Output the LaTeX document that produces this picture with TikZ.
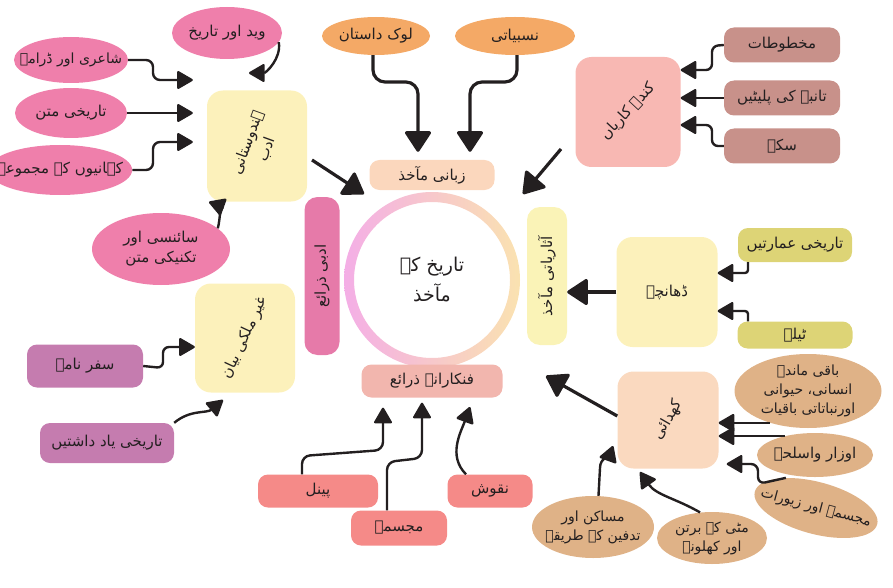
\documentclass[tikz,border=0pt]{standalone}
\usepackage{fontspec}
\newfontfamily\arabicfont[Script=Arabic]{DejaVu Sans}
\TeXXeTstate=1
\usetikzlibrary{arrows.meta,shapes.geometric,calc}
\newcommand{\urd}[1]{\beginR #1\endR}
\definecolor{pinkE}{HTML}{EF7FAB}
\definecolor{yelB}{HTML}{FCF1BB}
\definecolor{barP}{HTML}{E67AA9}
\definecolor{barY}{HTML}{FAF3B7}
\definecolor{zab}{HTML}{FBD7BD}
\definecolor{fank}{HTML}{F2B6AE}
\definecolor{kand}{HTML}{F8B8B3}
\definecolor{tenB}{HTML}{C8918A}
\definecolor{oliveB}{HTML}{DDD476}
\definecolor{tanE}{HTML}{DFB287}
\definecolor{khud}{HTML}{FAD9BF}
\definecolor{redB}{HTML}{F58A88}
\definecolor{purB}{HTML}{C57CAF}
\definecolor{orE}{HTML}{F4A966}
\definecolor{arrc}{HTML}{231F20}
\definecolor{txtc}{HTML}{231F20}
\definecolor{ringL}{HTML}{F4AEE6}
\definecolor{ringR}{HTML}{FAE2B0}
\tikzset{
  every node/.style={font=\arabicfont\fontsize{15pt}{20pt}\selectfont, text=txtc, align=center, inner sep=0pt},
  smalltext/.style={font=\arabicfont\fontsize{14pt}{19pt}\selectfont},
  ell/.style={ellipse, fill=#1, inner xsep=-12pt, inner ysep=-5pt},
  rbox/.style={rounded corners=10pt, fill=#1},
  bigbox/.style={rounded corners=16pt, fill=#1},
  arr/.style={-{Triangle[length=17pt,width=19pt,round]}, line width=2.4pt, draw=arrc},
  barr/.style={-{Triangle[length=22pt,width=28pt,round]}, line width=3.2pt, draw=arrc},
}
\begin{document}
\begin{tikzpicture}[x=1pt,y=-1pt]
\useasboundingbox (0,0) rectangle (893,588);
\clip (0,0) rectangle (893,588);

% centre ring
\coordinate (c) at (432,280);
\shade[left color=ringL, right color=ringR, even odd rule] (c) circle (88pt) (c) circle (78pt);
\node[font=\arabicfont\fontsize{19pt}{30pt}\selectfont] (centre) at (c) {\urd{تاریخ کے}\\\urd{مآخذ}};

% inner ring labels
\node[rbox=zab, minimum width=125pt, minimum height=30pt] (zabani) at (432,175) {\urd{زبانی مآخذ}};
\node[rbox=fank, minimum width=141pt, minimum height=33pt] (fankar) at (432,381) {\urd{فنکارانہ ذرائع}};
\node[rbox=barP, rounded corners=13pt, minimum width=35pt, minimum height=158pt] (adabi) at (322,276) {};
\node[rotate=90] (adabit) at (adabi.center) {\urd{ادبی ذرائع}};
\node[rbox=barY, rounded corners=13pt, minimum width=40pt, minimum height=138pt] (athar) at (547,276) {};
\node[rotate=90] (athart) at (athar.center) {\urd{آثاریاتی مآخذ}};

% left literary
\node[bigbox=yelB, minimum width=100pt, minimum height=111pt] (hind) at (257,146) {};
\node[rotate=70] (hindt) at (hind.center) {\urd{ہندوستانی}\\\urd{ادب}};
\node[bigbox=yelB, minimum width=100pt, minimum height=109pt] (ghair) at (245,338) {};
\node[rotate=65] (ghairt) at (ghair.center) {\urd{غیر ملکی بیان}};

\node[ell=pinkE, minimum width=110pt, minimum height=52pt] (ved) at (227,33) {\urd{وید اور تاریخ}};
\node[ell=pinkE, smalltext, minimum width=114pt, minimum height=46pt] (sha) at (71,60) {\urd{شاعری اور ڈرامے}};
\node[ell=pinkE, minimum width=112pt, minimum height=50pt] (tar) at (71,113) {\urd{تاریخی متن}};
\node[ell=pinkE, minimum width=135pt, minimum height=50pt] (kah) at (60,170) {\urd{کہانیوں کے مجموعے}};
\node[ell=pinkE, minimum width=138pt, minimum height=72pt] (sains) at (161,249) {\urd{سائنسی اور}\\\urd{تکنیکی متن}};

\node[rbox=purB, minimum width=116pt, minimum height=43pt] (safar) at (85,366) {\urd{سفر نامے}};
\node[rbox=purB, minimum width=134pt, minimum height=40pt] (yaad) at (107,443) {\urd{تاریخی یاد داشتیں}};

% top oral
\node[ell=orE, minimum width=108pt, minimum height=38pt] (lok) at (376,36) {\urd{لوک داستان}};
\node[ell=orE, minimum width=120pt, minimum height=38pt] (nasab) at (515,36) {\urd{نسبیاتی}};

% right top
\node[bigbox=kand, minimum width=105pt, minimum height=110pt] (kanda) at (628,112) {};
\node[rotate=47] (kandat) at (kanda.center) {\urd{کندہ کاریاں}};
\node[rbox=tenB, minimum width=116pt, minimum height=35pt] (makh) at (782,45) {\urd{مخطوطات}};
\node[rbox=tenB, minimum width=116pt, minimum height=35pt] (tanbe) at (782,98) {\urd{تانبے کی پلیٹیں}};
\node[rbox=tenB, minimum width=116pt, minimum height=35pt] (sikke) at (782,146) {\urd{سکے}};

% right middle
\node[bigbox=yelB, minimum width=101pt, minimum height=110pt] (dhan) at (667,292) {\urd{ڈھانچے}};
\node[rbox=oliveB, minimum width=114pt, minimum height=34pt] (amarat) at (795,245) {\urd{تاریخی عمارتیں}};
\node[rbox=oliveB, minimum width=115pt, minimum height=27pt] (teele) at (795,335) {\urd{ٹیلے}};

% right bottom
\node[bigbox=khud, minimum width=101pt, minimum height=97pt] (khud) at (668,420) {};
\node[rotate=60] (khudt) at (khud.center) {\urd{کھدائی}};
\node[ell=tanE, smalltext, minimum width=147pt, minimum height=74pt] (baqi) at (808,391) {\urd{باقی ماندہ}\\\urd{انسانی، حیوانی}\\\urd{اورنباتاتی باقیات}};
\node[ell=tanE, minimum width=116pt, minimum height=44pt] (auzar) at (815,455) {\urd{اوزار واسلحے}};
\node[ell=tanE, smalltext, minimum width=125pt, minimum height=52pt, rotate=-15] (mz) at (816,508) {\urd{مجسمے اور زیورات}};
\node[ell=tanE, smalltext, minimum width=110pt, minimum height=52pt] (mitti) at (712,538) {\urd{مٹی کے برتن}\\\urd{اور کھلونے}};
\node[ell=tanE, smalltext, minimum width=122pt, minimum height=62pt] (masa) at (593,527) {\urd{مساکن اور}\\\urd{تدفین کے طریقے}};

% bottom artistic
\node[rbox=redB, minimum width=120pt, minimum height=33pt] (panel) at (318,491) {\urd{پینل}};
\node[rbox=redB, minimum width=96pt, minimum height=35pt] (mujas) at (399,528) {\urd{مجسمے}};
\node[rbox=redB, minimum width=85pt, minimum height=33pt] (naqush) at (490,491) {\urd{نقوش}};

% ---- connectors ----
% oral
\draw[barr, rounded corners=12pt, shorten >=8pt] (lok.south -| 373,0) -- (373,82) -- (418,82) -- ([xshift=-14pt]zabani.north);
\draw[barr, rounded corners=12pt, shorten >=8pt] (nasab.south -| 517,0) -- (517,82) -- (470,82) -- ([xshift=38pt]zabani.north);
% big diagonals
\coordinate (d1s) at (312,160);
\coordinate (d1e) at (364,194);
\draw[barr] (d1s) -- (d1e);
\coordinate (d2s) at (561,149);
\coordinate (d2e) at (523,194);
\draw[barr] (d2s) -- (d2e);
\coordinate (d3e) at (546,376);
\draw[barr] (khud.west |- 0,416) -- (d3e);
\draw[barr] (dhan.west) -- (athar.east |- dhan.west);

% literary
\draw[arr, rounded corners=7pt, shorten >=14pt] (sha.east) -- (153,60) -- (153,80) -- (hind.west |- 0,80);
\draw[arr, shorten >=14pt] (tar.east) -- (hind.west |- tar.east);
\draw[arr, rounded corners=7pt, shorten >=14pt] (kah.east) -- (153,170) -- (153,142) -- (hind.west |- 0,142);
\coordinate (vedtip) at (249,73);
\draw[arr] (ved.350) to[out=-80,in=0] (vedtip);
\coordinate (saintip) at (209,202);
\draw[arr] (sains.20) to[out=75,in=-20] (saintip);
\draw[arr, rounded corners=6pt] (safar.east) -- (163,368) -- (163,347) -- (ghair.west |- 0,347);
\coordinate (yaadtip) at (223,400);
\draw[arr] (yaad.north east) to[out=40,in=220] (yaadtip);

% kanda
\draw[arr, rounded corners=6pt] (makh.west) -- (712,46) -- (712,70) -- (kanda.east |- 0,70);
\draw[arr] (tanbe.west) -- (kanda.east |- tanbe.west);
\draw[arr, rounded corners=6pt] (sikke.west) -- (712,146) -- (712,125) -- (kanda.east |- 0,125);

% dhanche
\draw[arr, rounded corners=3pt] (amarat.south -| 748,0) -- (748,273) -- (dhan.east |- 0,273);
\draw[arr, rounded corners=3pt] (teele.north -| 748,0) -- (748,311) -- (dhan.east |- 0,311);

% khudai
\draw[arr] (baqi.220) -- (khud.east |- baqi.220);
\draw[arr] (auzar.148) -- (khud.east |- auzar.148);
\draw[arr, rounded corners=7pt, shorten >=8pt] (mz.150) -- (758,484) -- (758,464) -- (khud.east |- 0,464);
\coordinate (mittitip) at (640,472);
\draw[arr] (mitti.115) to[out=150,in=-55] (mittitip);
\coordinate (masatip) at (613,446);
\draw[arr] (masa.80) -- (600,468) to[out=90,in=-110] (masatip);

% fankar
\draw[arr, rounded corners=8pt, shorten >=10pt] (panel.north -| 302,0) -- (302,456) -- (383,450) -- ([xshift=-49pt]fankar.south);
\draw[arr, rounded corners=8pt, shorten >=5pt] (mujas.north -| 387,0) -- (387,462) -- (422,458) -- ([xshift=-10pt]fankar.south);
\coordinate (naqtip) at (470,407);
\draw[arr] (naqush.north -| 466,0) to[out=135,in=-110] (naqtip);
\end{tikzpicture}
\end{document}
